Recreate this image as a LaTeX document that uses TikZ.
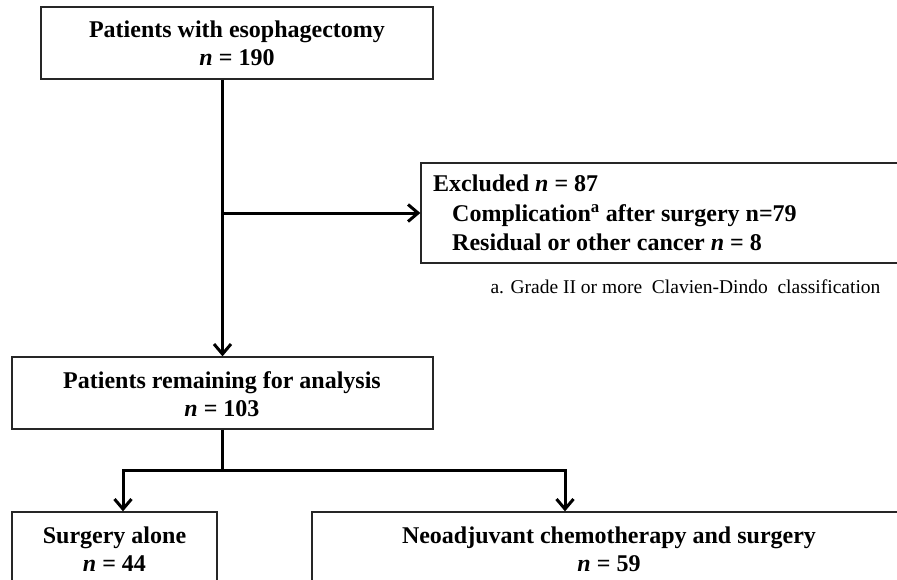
\documentclass[tikz,border=0pt]{standalone}
\usepackage{fontspec}
\setmainfont{Liberation Serif}
\usetikzlibrary{arrows.meta,calc}
\begin{document}
\begin{tikzpicture}[x=1pt,y=-1pt,
  box/.style={draw=black!85,line width=1.3pt,fill=white,inner sep=0pt},
  lbl/.style={font=\fontsize{24}{28}\selectfont\bfseries,align=center,inner sep=0pt},
  conn/.style={line width=3pt},
  arr/.style={line width=3pt,-{Straight Barb[length=10pt,width=17pt,line width=3pt]}}]
\useasboundingbox (0,0) rectangle (897,579);
\clip (0,0) rectangle (897,579);
% boxes
\node[box,minimum width=392pt,minimum height=72pt] (top) at (237,43) {};
\node[lbl] (toptxt) at (237,43) {Patients with esophagectomy\\\textit{n} = 190};
\node[box,minimum width=484pt,minimum height=100pt] (excl) at (663,213) {};
\node[lbl,align=left,anchor=west,font=\fontsize{24}{29.5}\selectfont\bfseries] (excltxt) at (433,213)
  {Excluded \textit{n} = 87\\\hspace{19pt}Complication\textsuperscript{a} after surgery n=79\\\hspace{19pt}Residual or other cancer \textit{n} = 8};
\node[inner sep=0pt,font=\fontsize{19.5}{22}\selectfont] (fn) at (685.5,287)
  {a. Grade II or more\ \ Clavien-Dindo\ \ classification};
\node[box,minimum width=421pt,minimum height=72pt] (mid) at (222.5,393) {};
\node[lbl] (midtxt) at (222,394) {Patients remaining for analysis\\\textit{n} = 103};
\node[box,minimum width=205pt,minimum height=100pt] (sa) at (114.5,562) {};
\node[lbl] (satxt) at (114.5,549) {Surgery alone\\\textit{n} = 44};
\node[box,minimum width=594pt,minimum height=100pt] (nc) at (609,562) {};
\node[lbl] (nctxt) at (609,549) {Neoadjuvant chemotherapy and surgery\\\textit{n} = 59};
% connectors
\coordinate (jl) at (123,470);
\coordinate (jr) at (565,470);
\draw[arr] (top.south -| mid.north) -- (mid.north);
\draw[arr] (excl.west -| mid.north) -- (excl.west);
\coordinate (jm) at (mid.south |- jl);
\draw[conn] (mid.south) -- (jm);
\draw[arr] (jm) -| (sa.north -| jl);
\draw[arr] (jm) -| (nc.north -| jr);
\end{tikzpicture}
\end{document}
